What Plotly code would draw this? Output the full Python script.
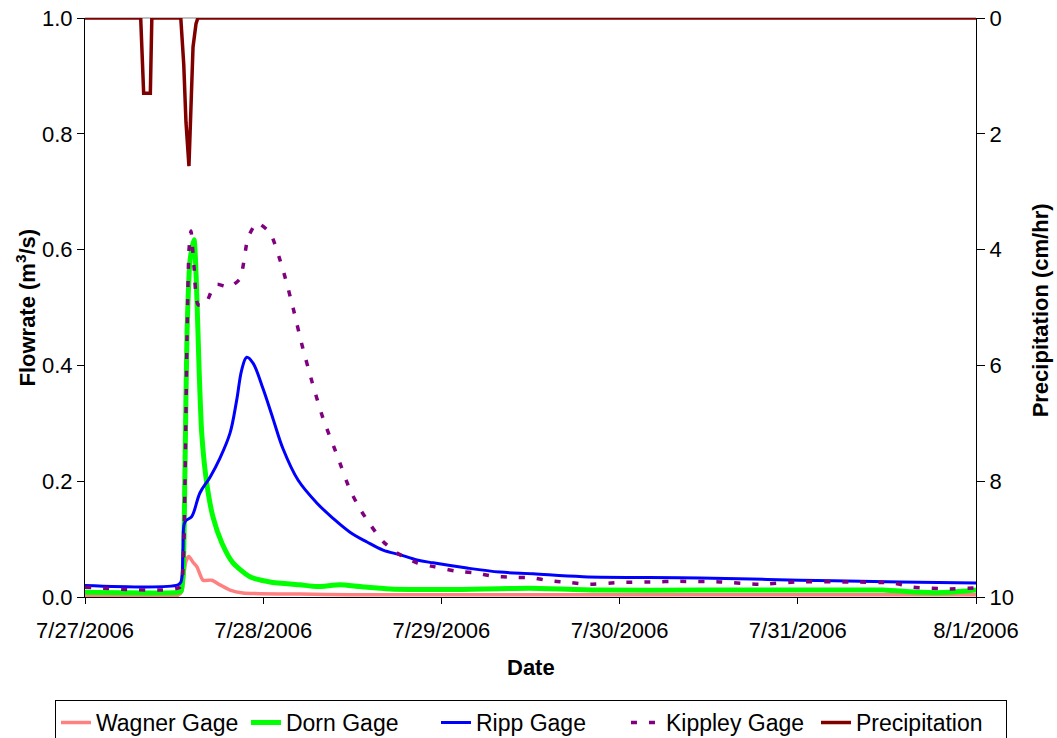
import pandas as pd
import plotly.graph_objects as go

start = pd.Timestamp("2006-07-27 00:00")

# hours since 7/27/2006 00:00 and values
wagner_h = [0, 12.53, 13.06, 13.33, 13.6, 14.0, 14.55, 15.08, 15.89, 17.06, 18.18, 19.53, 21.28, 28.96, 35.69, 42.42, 120]
wagner_v = [0.003, 0.003, 0.01, 0.04, 0.062, 0.07, 0.06, 0.052, 0.029, 0.029, 0.021, 0.012, 0.007, 0.005, 0.004, 0.004, 0.004]

dorn_h = [0, 12.53, 12.93, 13.2, 13.47, 13.74, 14.14, 14.68, 15.08, 15.35, 15.72, 16.39, 17.24, 18.45, 19.93,
          22.22, 24.92, 28.96, 31.25, 34.34, 37.04, 41.08, 49.16, 59.93, 69.36, 82.83, 96.3, 107.48, 112.46, 116.5, 120]
dorn_v = [0.008, 0.008, 0.01, 0.035, 0.225, 0.456, 0.58, 0.617, 0.513, 0.40, 0.283, 0.197, 0.138, 0.093, 0.059,
          0.035, 0.026, 0.021, 0.018, 0.021, 0.018, 0.014, 0.013, 0.015, 0.012, 0.012, 0.012, 0.012, 0.008, 0.008, 0.012]

ripp_h = [0, 12.53, 12.93, 13.2, 13.47, 14.37, 15.49, 16.84, 18.18, 19.53, 20.43, 21.1, 21.78, 22.63, 23.97,
          25.32, 26.67, 28.69, 31.25, 33.4, 35.69, 37.98, 40.14, 42.42, 44.71, 46.87, 51.45, 55.89, 60.34, 67.07,
          82.83, 96.3, 109.76, 120]
ripp_v = [0.02, 0.021, 0.026, 0.081, 0.13, 0.139, 0.18, 0.207, 0.24, 0.283, 0.34, 0.392, 0.414, 0.404, 0.36,
          0.308, 0.256, 0.202, 0.162, 0.136, 0.112, 0.095, 0.081, 0.073, 0.064, 0.059, 0.05, 0.043, 0.04, 0.035,
          0.033, 0.029, 0.026, 0.024]

kippley_h = [0, 12.79, 13.2, 13.47, 13.74, 14.01, 14.28, 14.68, 15.22, 16.16, 17.1, 17.78, 19.39, 20.88, 21.95,
             23.16, 24.92, 26.67, 28.01, 29.23, 30.57, 32.05, 33.94, 35.69, 37.04, 38.52, 40.14, 42.02, 44.71,
             47.14, 49.83, 52.39, 54.95, 57.51, 60.2, 62.63, 65.32, 67.75, 72.05, 76.09, 80.13, 85.52, 90.91,
             95.89, 103.03, 108.82, 111.51, 116.5, 120]
kippley_v = [0.017, 0.017, 0.05, 0.2, 0.45, 0.6, 0.632, 0.57, 0.505, 0.505, 0.53, 0.54, 0.535, 0.55, 0.62,
             0.646, 0.629, 0.565, 0.5, 0.435, 0.372, 0.309, 0.245, 0.185, 0.152, 0.123, 0.096, 0.076, 0.059,
             0.052, 0.045, 0.042, 0.036, 0.034, 0.033, 0.028, 0.025, 0.022, 0.025, 0.026, 0.027, 0.026, 0.022,
             0.026, 0.026, 0.024, 0.017, 0.014, 0.016]

precip_h = [0, 7.5, 7.9, 8.8, 9.0, 12.9, 13.3, 13.6, 14.0, 14.3, 14.55, 14.95, 15.2, 120]
precip_v = [0, 0, 1.3, 1.3, 0, 0, 0.8, 1.8, 2.56, 1.5, 0.5, 0.1, 0, 0]

day_ticks = ["2006-07-27", "2006-07-28", "2006-07-29", "2006-07-30", "2006-07-31", "2006-08-01"]
day_labels = ["7/27/2006", "7/28/2006", "7/29/2006", "7/30/2006", "7/31/2006", "8/1/2006"]
flow_ticks = [0, 0.2, 0.4, 0.6, 0.8, 1.0]
precip_ticks = [0, 2, 4, 6, 8, 10]


def times(hours):
    return [start + pd.Timedelta(hours=h) for h in hours]


FONT = "Liberation Sans, Arial, sans-serif"
TICKFONT = dict(family=FONT, size=22, color="black")
TITLEFONT = dict(family=FONT, size=22, color="black")

fig = go.Figure()
fig.add_trace(go.Scatter(x=times(wagner_h), y=wagner_v, name="Wagner Gage", mode="lines",
                         line=dict(color="#FF8080", width=3.5, shape="spline", smoothing=0.6)))
fig.add_trace(go.Scatter(x=times(dorn_h), y=dorn_v, name="Dorn Gage", mode="lines",
                         line=dict(color="#00FF00", width=5, shape="spline", smoothing=0.6)))
fig.add_trace(go.Scatter(x=times(ripp_h), y=ripp_v, name="Ripp Gage", mode="lines",
                         line=dict(color="#0000FF", width=3, shape="spline", smoothing=1.0)))
fig.add_trace(go.Scatter(x=times(kippley_h), y=kippley_v, name="Kippley Gage", mode="lines",
                         line=dict(color="#800080", width=3.5, dash="6px,12px", shape="spline", smoothing=0.6)))
fig.add_trace(go.Scatter(x=times(precip_h), y=precip_v, name="Precipitation", mode="lines", yaxis="y2",
                         line=dict(color="#800000", width=3.5)))

fig.update_layout(
    width=1057, height=738,
    margin=dict(l=85, r=81, t=18, b=141, autoexpand=False),
    paper_bgcolor="white", plot_bgcolor="white",
    font=dict(family=FONT, size=20, color="black"),
    showlegend=True,
    legend=dict(orientation="h", xref="paper", x=-0.0337, xanchor="left",
                yref="paper", y=-0.178, yanchor="top",
                bordercolor="black", borderwidth=1,
                font=dict(family=FONT, size=23, color="black"),
                entrywidth=145, entrywidthmode="pixels",
                tracegroupgap=0),
    xaxis=dict(type="date", range=[day_ticks[0], day_ticks[-1]], automargin=False,
               tickmode="array", tickvals=day_ticks, ticktext=day_labels, tickfont=TICKFONT,
               ticklabelstandoff=8,
               showgrid=False, zeroline=False,
               showline=True, linecolor="black", linewidth=1,
               ticks="outside", ticklen=6, tickcolor="black"),
    yaxis=dict(range=[0, 1], automargin=False, tickmode="array", tickvals=flow_ticks, tickformat=".1f",
               tickfont=TICKFONT, showgrid=False, zeroline=False,
               showline=True, linecolor="black", linewidth=1,
               ticks="outside", ticklen=7, tickcolor="black"),
    yaxis2=dict(range=[10, 0], overlaying="y", side="right", automargin=False,
                tickmode="array", tickvals=precip_ticks, tickfont=TICKFONT,
                showgrid=False, zeroline=False,
                showline=True, linecolor="black", linewidth=1,
                ticks="outside", ticklen=8, tickcolor="black"),
    shapes=[dict(type="line", xref="paper", yref="paper", x0=0, x1=1, y0=1, y1=1,
                 line=dict(color="#808080", width=1), layer="below")],
    annotations=[
        dict(text="<b>Flowrate (m<sup>3</sup>/s)</b>", xref="paper", yref="paper", x=-0.0673, y=0.5,
             textangle=-90, showarrow=False, font=TITLEFONT, xanchor="center", yanchor="middle"),
        dict(text="<b>Precipitation (cm/hr)</b>", xref="paper", yref="paper", x=1.0718, y=0.495,
             textangle=-90, showarrow=False, font=TITLEFONT, xanchor="center", yanchor="middle"),
        dict(text="<b>Date</b>", xref="paper", yref="paper", x=0.5, y=-0.1226,
             showarrow=False, font=TITLEFONT, xanchor="center", yanchor="middle"),
    ],
)

fig.write_html("out.html", config={"displayModeBar": False},
               post_script="document.body.style.margin='0';document.body.style.overflow='hidden';")
